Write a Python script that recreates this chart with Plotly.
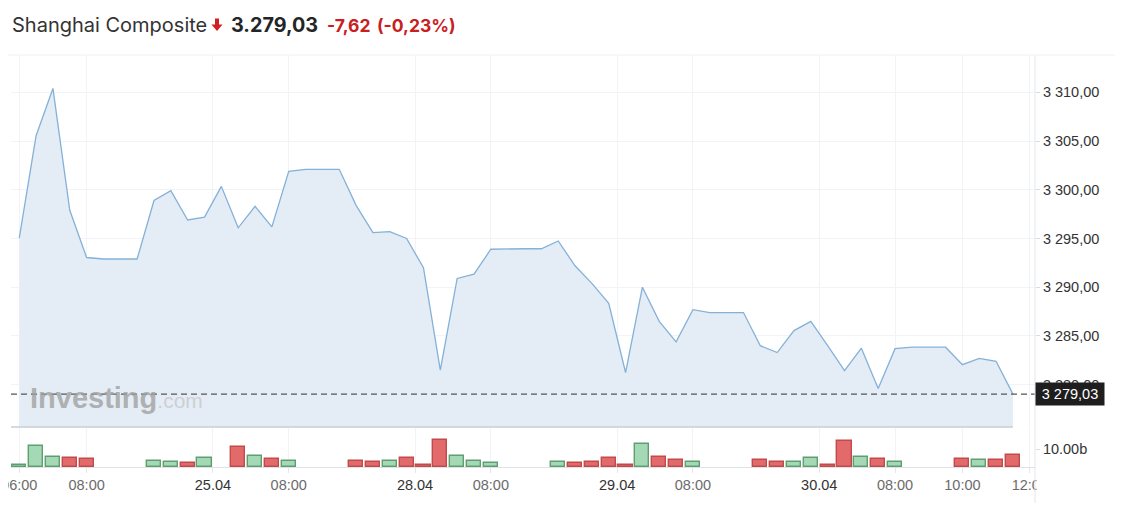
import plotly.graph_objects as go

# ---------------- data ----------------
days = ["24.04", "25.04", "28.04", "29.04", "30.04"]
slot_times = ["06:00", "06:30", "07:00", "07:30", "08:00", "08:30",
              "09:00", "09:30", "10:00", "10:30", "11:00", "11:30"]

price = [
    3295.05, 3305.55, 3310.40, 3297.90, 3293.05, 3292.90, 3292.90, 3292.90, 3298.90, 3299.90, 3296.90, 3297.20,
    3300.35, 3296.10, 3298.30, 3296.20, 3301.90, 3302.10, 3302.10, 3302.10, 3298.40, 3295.60, 3295.70, 3295.00,
    3292.00, 3281.50, 3290.90, 3291.35, 3293.90, 3293.95, 3293.95, 3293.95, 3294.75, 3292.20, 3290.40, 3288.35,
    3281.25, 3290.00, 3286.50, 3284.40, 3287.70, 3287.40, 3287.40, 3287.40, 3284.00, 3283.30, 3285.55, 3286.50,
    3284.00, 3281.45, 3283.75, 3279.60, 3283.70, 3283.85, 3283.85, 3283.85, 3282.05, 3282.70, 3282.40, 3279.03,
]

volume_b = [
    0.9, 11.8, 5.6, 5.0, 4.4, None, None, None, 3.5, 2.8, 2.2, 5.0,
    None, 11.3, 6.3, 4.4, 3.5, None, None, None, 3.5, 2.8, 3.5, 5.0,
    0.9, 15.3, 6.3, 3.5, 2.2, None, None, None, 3.0, 2.3, 3.0, 5.1,
    0.9, 12.8, 5.8, 4.0, 3.0, None, None, None, 4.0, 3.0, 3.0, 5.1,
    0.9, 14.5, 5.8, 4.5, 3.0, None, None, None, 4.5, 3.8, 3.8, 6.6,
]

x_tick_pos = [0, 4, 11.5, 16, 23.5, 28, 35.5, 40, 47.5, 52, 56, 60]
x_tick_labels = ["06:00", "08:00", "25.04", "08:00", "28.04", "08:00",
                 "29.04", "08:00", "30.04", "08:00", "10:00", "12:00"]

y_ticks = [3280, 3285, 3290, 3295, 3300, 3305, 3310]
vol_tick = [10]
vol_tick_label = ["10.00b"]

title_name = "Shanghai Composite"
last_text = "3.279,03"
chg_text = "-7,62"
pct_text = "(-0,23%)"
last_axis_text = "3 279,03"

# ---------------- geometry helpers ----------------
W, H, OFF = 1107, 495, 8
ML, MR, MT, MB = 3, 80, 47, 36
PW = W - ML - MR
PH = H - MT - MB


def pxx(page_x):
    return (page_x - OFF - ML) / PW


def pxy(page_y):
    return (H - MB - (page_y - OFF)) / PH


idx = list(range(len(price)))
slot_label = [d + " " + t for d in days for t in slot_times]

GREEN_F, GREEN_L = "#a5d9b6", "#5e9f72"
RED_F, RED_L = "#e26a6a", "#c24a4a"
bar_fill, bar_line = [], []
for i in idx:
    up = True if i == 0 else price[i] >= price[i - 1]
    bar_fill.append(GREEN_F if up else RED_F)
    bar_line.append(GREEN_L if up else RED_L)

fig = go.Figure()
fig.add_trace(go.Scatter(
    x=idx, y=price, mode="lines", yaxis="y", xaxis="x",
    line=dict(color="#84b1d8", width=1.3),
    fill="tozeroy", fillcolor="#e4edf5",
    text=slot_label, hoverinfo="text+y", showlegend=False,
))
fig.add_trace(go.Bar(
    x=idx, y=volume_b, yaxis="y2", xaxis="x", width=0.84,
    marker=dict(color=bar_fill, line=dict(color=bar_line, width=1.4)),
    showlegend=False,
))

dom_main_bottom = pxy(427)
dom_vol_top = pxy(428)

tick_text_styled = []
for t in x_tick_labels:
    if "." in t:
        tick_text_styled.append('<span style="color:#333333">%s</span>' % t)
    else:
        tick_text_styled.append('<span style="color:#6b6b6b">%s</span>' % t)

axis_font = dict(family="Liberation Sans, Arial, sans-serif", size=14.5, color="#333333")

fig.update_layout(
    width=W, height=H,
    margin=dict(l=ML, r=MR, t=MT, b=MB, pad=0, autoexpand=False),
    paper_bgcolor="white", plot_bgcolor="white",
    separators=", ",
    bargap=0,
    xaxis=dict(
        anchor="y2", range=[-0.49, 60.31], automargin=False,
        tickmode="array", tickvals=x_tick_pos, ticktext=tick_text_styled,
        ticklabeloverflow="allow",
        showgrid=True, gridcolor="#f1f3f6", gridwidth=1,
        showline=True, linecolor="#dfe2e7", linewidth=1,
        ticks="outside", ticklen=5, tickcolor="#e3e6ea",
        tickfont=axis_font, zeroline=False, fixedrange=True,
    ),
    yaxis=dict(
        domain=[dom_main_bottom, 1], side="right", anchor="x", automargin=False,
        range=[3275.66, 3313.83],
        tickmode="array", tickvals=y_ticks, tickformat=",.2f",
        showgrid=True, gridcolor="#f1f3f6", gridwidth=1,
        ticks="outside", ticklen=4, tickcolor="#d9dce1",
        tickfont=axis_font, zeroline=False, showline=False,
    ),
    yaxis2=dict(
        domain=[0, dom_vol_top], side="right", anchor="x", automargin=False,
        range=[0, 21.7],
        tickmode="array", tickvals=vol_tick, ticktext=vol_tick_label,
        showgrid=False, ticks="outside", ticklen=4, tickcolor="#d9dce1",
        tickfont=axis_font, zeroline=False, showline=False,
    ),
)

shapes = []
# dashed last-price line
shapes.append(dict(type="line", xref="paper", yref="y", x0=pxx(11), x1=1,
                   y0=price[-1], y1=price[-1], layer="above",
                   line=dict(color="#555555", width=1.2, dash="6px,4px")))
# pane separator (under the area)
shapes.append(dict(type="line", xref="x", yref="paper", x0=-0.49, x1=idx[-1],
                   y0=dom_main_bottom, y1=dom_main_bottom, layer="above",
                   line=dict(color="#c9ced6", width=1.5)))
# right axis border line
shapes.append(dict(type="line", xref="paper", yref="paper", x0=1, x1=1,
                   y0=pxy(511), y1=1, layer="above",
                   line=dict(color="#e3e6ea", width=1)))
# top border line
shapes.append(dict(type="line", xref="paper", yref="paper", x0=pxx(8), x1=pxx(1115),
                   y0=pxy(55), y1=pxy(55), layer="above",
                   line=dict(color="#f0f1f3", width=1)))
# red down arrow icon in title
ax0, ax1, ay_top, ay_mid, ay_bot = 211.5, 222.5, 18.5, 24.5, 31
sx0, sx1 = 215, 219
path = "M %f,%f L %f,%f L %f,%f L %f,%f L %f,%f L %f,%f L %f,%f Z" % (
    pxx(sx0), pxy(ay_top), pxx(sx1), pxy(ay_top), pxx(sx1), pxy(ay_mid),
    pxx(ax1), pxy(ay_mid), pxx((ax0 + ax1) / 2), pxy(ay_bot),
    pxx(ax0), pxy(ay_mid), pxx(sx0), pxy(ay_mid))
shapes.append(dict(type="path", xref="paper", yref="paper", path=path,
                   fillcolor="#d0201f", line=dict(width=0)))
fig.update_layout(shapes=shapes)

ann = []
ty = pxy(25)
ann.append(dict(xref="paper", yref="paper", x=pxx(10), y=ty, xanchor="left", yanchor="middle",
                text=title_name, showarrow=False,
                font=dict(family="Inter, Roboto, sans-serif", size=20, color="#333333")))
ann.append(dict(xref="paper", yref="paper", x=pxx(229), y=ty, xanchor="left", yanchor="middle",
                text="<b>%s</b>" % last_text, showarrow=False,
                font=dict(family="Inter, Roboto, sans-serif", size=19.8, color="#232526")))
ann.append(dict(xref="paper", yref="paper", x=pxx(325), y=ty, xanchor="left", yanchor="middle",
                text="<b>%s</b>" % chg_text, showarrow=False,
                font=dict(family="Inter, Roboto, sans-serif", size=17.5, color="#c8201f")))
ann.append(dict(xref="paper", yref="paper", x=pxx(375), y=ty, xanchor="left", yanchor="middle",
                text="<b>%s</b>" % pct_text, showarrow=False,
                font=dict(family="Inter, Roboto, sans-serif", size=17.5, color="#c8201f")))
# watermark
ann.append(dict(xref="paper", yref="paper", x=pxx(28), y=pxy(398), xanchor="left", yanchor="middle",
                text='<b>Investing</b><span style="font-size:21px;color:rgba(190,190,190,0.8)">.com</span>',
                showarrow=False,
                font=dict(family="Liberation Sans, Arial, sans-serif", size=29,
                          color="rgba(160,160,160,0.8)")))
# last price tag on axis
ann.append(dict(xref="paper", yref="y", x=1, y=price[-1], xanchor="left", yanchor="middle",
                text=last_axis_text, showarrow=False, bgcolor="#1e1e1e", borderpad=3,
                width=62, height=16, align="center",
                font=dict(family="Liberation Sans, Arial, sans-serif", size=14.5, color="white")))
# clip of the last x label beyond the axis border
ann.append(dict(xref="paper", yref="paper", x=pxx(1036), y=pxy(486), xanchor="left", yanchor="middle",
                text=" ", showarrow=False, bgcolor="white", width=26, height=24, borderpad=0))
fig.update_layout(annotations=ann)

fig.write_html("out.html")
